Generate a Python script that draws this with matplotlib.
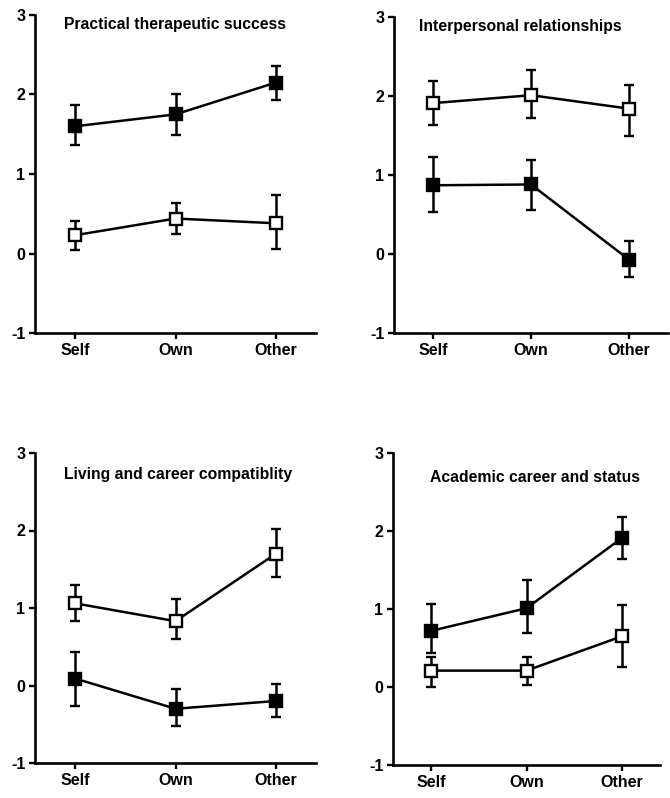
import numpy as np
import matplotlib
matplotlib.use("Agg")
import matplotlib.pyplot as plt

plt.rcParams['font.family'] = ['Liberation Sans', 'DejaVu Sans']

conditions = ["Self", "Own", "Other"]

titles = ["Practical therapeutic success", "Interpersonal relationships",
          "Living and career compatiblity", "Academic career and status"]

# filled squares: mean, lower and upper ends of error bar
filled_mean = [[1.60, 1.75, 2.15], [0.87, 0.88, -0.07],
               [0.09, -0.30, -0.20], [0.72, 1.01, 1.91]]
filled_lo = [[1.36, 1.49, 1.93], [0.53, 0.56, -0.29],
             [-0.26, -0.52, -0.40], [0.43, 0.69, 1.64]]
filled_hi = [[1.87, 2.01, 2.36], [1.23, 1.19, 0.16],
             [0.43, -0.04, 0.02], [1.07, 1.37, 2.18]]

# open squares
open_mean = [[0.23, 0.44, 0.38], [1.91, 2.01, 1.84],
             [1.06, 0.83, 1.70], [0.21, 0.21, 0.65]]
open_lo = [[0.04, 0.25, 0.06], [1.63, 1.72, 1.50],
           [0.83, 0.60, 1.40], [0.00, 0.02, 0.26]]
open_hi = [[0.41, 0.63, 0.73], [2.19, 2.33, 2.14],
            [1.30, 1.11, 2.02], [0.38, 0.39, 1.05]]

W, H = 670, 798
fig = plt.figure(figsize=(W / 100, H / 100), dpi=100)

# axes boxes in pixels: left, top(y=3), right, bottom(y=-1)
boxes = [(35, 15, 316, 333), (394, 17, 668, 333),
         (35, 453, 316, 763), (393, 453, 660, 765)]
title_pos = [(0.50, 0.97), (0.46, 0.97), (0.51, 0.93), (0.53, 0.92)]

x = np.arange(len(conditions))

for i in range(4):
    l, t, r, b = boxes[i]
    ax = fig.add_axes([l / W, 1 - b / H, (r - l) / W, (b - t) / H])

    for mean, lo, hi, face in [(filled_mean[i], filled_lo[i], filled_hi[i], 'black'),
                               (open_mean[i], open_lo[i], open_hi[i], 'white')]:
        mean = np.array(mean)
        yerr = [mean - np.array(lo), np.array(hi) - mean]
        ax.errorbar(x, mean, yerr=yerr, color='black', lw=1.8,
                    elinewidth=1.8, capsize=3.5, capthick=1.8,
                    marker='s', markersize=8, markerfacecolor=face,
                    markeredgecolor='black', markeredgewidth=1.7, zorder=3)

    ax.set_xlim(-0.4, 2.4)
    ax.set_ylim(-1, 3)
    ax.set_xticks(x)
    ax.set_xticklabels(conditions)
    ax.set_yticks([-1, 0, 1, 2, 3])
    ax.set_yticklabels(['-1', '0', '1', '2', '3'])
    for s in ['top', 'right']:
        ax.spines[s].set_visible(False)
    for s in ['left', 'bottom']:
        ax.spines[s].set_linewidth(1.9)
    ax.tick_params(direction='out', length=4, width=1.7, labelsize=11.5, pad=3)
    for lab in ax.get_xticklabels() + ax.get_yticklabels():
        lab.set_fontweight('bold')

    ax.text(title_pos[i][0], title_pos[i][1], titles[i], transform=ax.transAxes,
            ha='center', va='center', fontsize=11.3, fontweight='bold')

fig.savefig("out.png", dpi=100)
